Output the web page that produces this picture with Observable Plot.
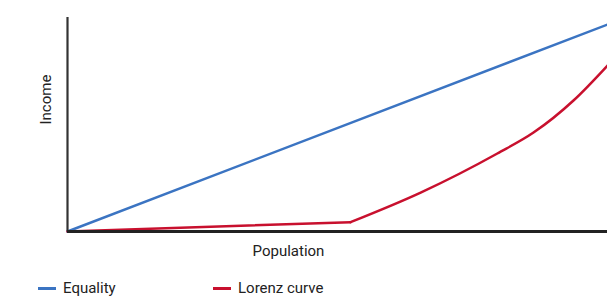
<!DOCTYPE html>
<html><head><meta charset="utf-8">
<script src="https://cdn.jsdelivr.net/npm/d3@7"></script>
<script src="https://cdn.jsdelivr.net/npm/@observablehq/plot@0.6"></script>
<style>
body{margin:0;background:#fff;font-family:Roboto,"Noto Sans",sans-serif;}
#legend{position:relative;height:28px;width:607px;font-size:15px;color:#222;}
.item{position:absolute;top:9px;display:flex;align-items:center;}
.sw{display:inline-block;width:18px;height:3px;margin-right:7px;}
</style></head><body>
<div id="chart"></div>
<div id="legend"></div>
<script>
const seriesNames = ["Equality", "Lorenz curve"];
const seriesColors = ["#3b74c2", "#c8102e"];
const equalityX = [0, 1];
const equalityY = [0, 1];
const lorenzX = [0, 0.524, 0.654, 0.796, 0.863, 0.937, 1];
const lorenzY = [0, 0.045, 0.188, 0.377, 0.478, 0.633, 0.802];
const axisLabels = {x: "Population", y: "Income"};

const eq = equalityX.map((x, i) => ({x, y: equalityY[i]}));
const lz = lorenzX.map((x, i) => ({x, y: lorenzY[i]}));

const chart = Plot.plot({
  width: 607, height: 270,
  marginLeft: 67, marginRight: 0, marginTop: 17, marginBottom: 39,
  x: {domain: [0, 1], axis: null},
  y: {domain: [0, 1.034], axis: null},
  style: {fontFamily: "Roboto, 'Noto Sans', sans-serif", fontSize: "15px", color: "#222"},
  marks: [
    Plot.line(eq, {x: "x", y: "y", stroke: seriesColors[0], strokeWidth: 2.5}),
    Plot.line(lz.slice(0, 2), {x: "x", y: "y", stroke: seriesColors[1], strokeWidth: 2.5}),
    Plot.line(lz.slice(1), {x: "x", y: "y", stroke: seriesColors[1], strokeWidth: 2.5, curve: "monotone-x"}),
    Plot.ruleX([0], {stroke: "#333", strokeWidth: 2.2}),
    Plot.ruleY([0], {stroke: "#222", strokeWidth: 2.8}),
    Plot.text([axisLabels.y], {text: d => d, frameAnchor: "left", dx: -21, rotate: -90, fontSize: 15, fill: "#222"}),
    Plot.text([axisLabels.x], {text: d => d, frameAnchor: "bottom", dx: -49, dy: 24, fontSize: 15, fill: "#222"})
  ]
});
document.getElementById("chart").appendChild(chart);

const leg = document.getElementById("legend");
const lefts = [38, 213];
seriesNames.forEach((n, i) => {
  const it = document.createElement("div");
  it.className = "item";
  it.style.left = lefts[i] + "px";
  it.innerHTML = `<span class="sw" style="background:${seriesColors[i]}"></span><span>${n}</span>`;
  leg.appendChild(it);
});
</script>
</body></html>
